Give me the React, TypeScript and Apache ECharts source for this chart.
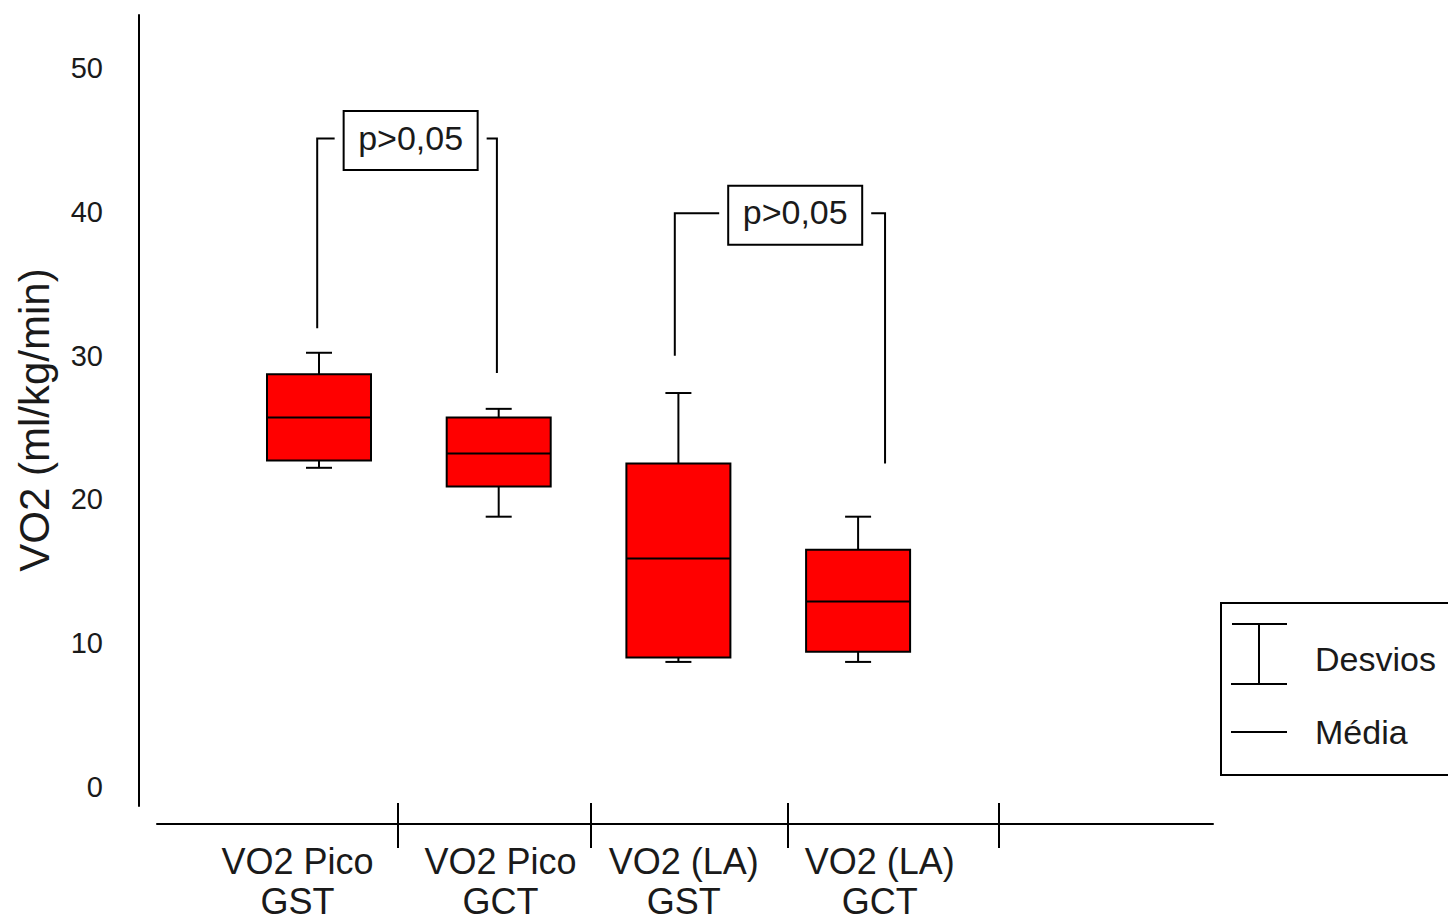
import React, { useEffect, useRef } from "react";
import * as echarts from "echarts";

// ---- data ----
const categories = ["VO2 Pico\nGST", "VO2 Pico\nGCT", "VO2 (LA)\nGST", "VO2 (LA)\nGCT"];
const boxPositions = [1, 2, 3, 4];
const whiskerLow = [22.2, 18.8, 8.7, 8.7];
const boxLow = [22.7, 20.9, 9.0, 9.4];
const means = [25.7, 23.2, 15.9, 12.9];
const boxHigh = [28.7, 25.7, 22.5, 16.5];
const whiskerHigh = [30.2, 26.3, 27.4, 18.8];
const yTickValues = [0, 10, 20, 30, 40, 50];
const labelPositions = [0.88, 2.01, 3.03, 4.12];
const separatorPositions = [1.44, 2.51, 3.61, 4.78];

const comparisonLabels = ["p>0,05", "p>0,05"];
const bracketLeftX = [0.99, 2.98];
const bracketRightX = [1.99, 4.15];
const bracketLevel = [45.1, 39.9];
const bracketLeftEnd = [31.9, 30.0];
const bracketRightEnd = [28.8, 22.5];
const bracketLabelX = [1.51, 3.65];

const legendItems = ["Desvios", "Média"];
const yAxisTitle = "VO2 (ml/kg/min)";

const FONT = "'Liberation Sans', Arial, sans-serif";
const INK = "#1a1a1a";

export default function App() {
  const ref = useRef<HTMLDivElement>(null);

  useEffect(() => {
    if (!ref.current) return;
    const chart = echarts.init(ref.current, null, { renderer: "svg" });

    const boxData = boxPositions.map((x, i) => [
      x,
      whiskerLow[i],
      boxLow[i],
      means[i],
      boxHigh[i],
      whiskerHigh[i],
    ]);
    const bracketData = comparisonLabels.map((_, i) => [
      bracketLeftX[i],
      bracketRightX[i],
      bracketLevel[i],
      bracketLeftEnd[i],
      bracketRightEnd[i],
      bracketLabelX[i],
    ]);

    const line = (x1: number, y1: number, x2: number, y2: number) => ({
      type: "line",
      shape: { x1, y1, x2, y2 },
      style: { stroke: "#000", lineWidth: 2 },
    });

    const option: any = {
      animation: false,
      backgroundColor: "#fff",
      grid: { left: 157, right: 235, top: 15, bottom: 118, outerBoundsMode: "none", containLabel: false },
      xAxis: [
        {
          type: "value",
          min: 0.0985,
          max: 5.975,
          position: "bottom",
          offset: 18,
          splitLine: { show: false },
          axisLine: { show: true, onZero: false, lineStyle: { color: "#000", width: 2 } },
          axisTick: {
            show: true,
            customValues: separatorPositions,
            length: 24,
            inside: false,
            lineStyle: { color: "#000", width: 2 },
          },
          axisLabel: {
            show: true,
            customValues: labelPositions,
            margin: 17,
            fontFamily: FONT,
            fontSize: 36,
            lineHeight: 40,
            color: INK,
            formatter: (v: number) => {
              const idx = labelPositions.findIndex((p) => Math.abs(p - v) < 1e-6);
              return idx >= 0 ? categories[idx] : "";
            },
          },
        },
        {
          type: "value",
          min: 0.0985,
          max: 5.975,
          position: "bottom",
          offset: 18,
          splitLine: { show: false },
          axisLine: { show: false, onZero: false },
          axisTick: {
            show: true,
            customValues: separatorPositions,
            length: 21,
            inside: true,
            lineStyle: { color: "#000", width: 2 },
          },
          axisLabel: { show: false },
        },
      ],
      yAxis: {
        type: "value",
        min: -1.32,
        max: 53.69,
        offset: 18,
        splitLine: { show: false },
        axisLine: { show: true, onZero: false, lineStyle: { color: "#000", width: 2 } },
        axisTick: { show: false },
        axisLabel: {
          customValues: yTickValues,
          margin: 36,
          fontFamily: FONT,
          fontSize: 29,
          color: INK,
        },
      },
      series: [
        {
          type: "custom",
          xAxisIndex: 0,
          yAxisIndex: 0,
          clip: false,
          data: boxData,
          renderItem: (params: any, api: any) => {
            const x = api.value(0);
            const pWL = api.coord([x, api.value(1)]);
            const pBL = api.coord([x, api.value(2)]);
            const pM = api.coord([x, api.value(3)]);
            const pBH = api.coord([x, api.value(4)]);
            const pWH = api.coord([x, api.value(5)]);
            const cx = pM[0];
            const half = 52;
            const cap = 13;
            return {
              type: "group",
              children: [
                line(cx, pWH[1], cx, pBH[1]),
                line(cx - cap, pWH[1], cx + cap, pWH[1]),
                line(cx, pBL[1], cx, pWL[1]),
                line(cx - cap, pWL[1], cx + cap, pWL[1]),
                {
                  type: "rect",
                  shape: { x: cx - half, y: pBH[1], width: half * 2, height: pBL[1] - pBH[1] },
                  style: { fill: "#ff0000", stroke: "#000", lineWidth: 2 },
                },
                line(cx - half, pM[1], cx + half, pM[1]),
              ],
            };
          },
        },
        {
          type: "custom",
          xAxisIndex: 0,
          yAxisIndex: 0,
          clip: false,
          data: bracketData,
          renderItem: (params: any, api: any) => {
            const i = params.dataIndex;
            const pL = api.coord([api.value(0), api.value(2)]);
            const pR = api.coord([api.value(1), api.value(2)]);
            const pLE = api.coord([api.value(0), api.value(3)]);
            const pRE = api.coord([api.value(1), api.value(4)]);
            const pLab = api.coord([api.value(5), api.value(2)]);
            const bw = 134;
            const bh = 59;
            const gap = 9;
            const ly = pL[1];
            const bx = pLab[0] - bw / 2;
            const by = ly + 2 - bh / 2;
            return {
              type: "group",
              children: [
                {
                  type: "polyline",
                  shape: { points: [[pLE[0], pLE[1]], [pL[0], ly], [bx - gap, ly]] },
                  style: { stroke: "#000", lineWidth: 2, fill: null },
                },
                {
                  type: "polyline",
                  shape: { points: [[bx + bw + gap, ly], [pR[0], ly], [pRE[0], pRE[1]]] },
                  style: { stroke: "#000", lineWidth: 2, fill: null },
                },
                {
                  type: "rect",
                  shape: { x: bx, y: by, width: bw, height: bh },
                  style: { fill: "#fff", stroke: "#000", lineWidth: 2 },
                },
                {
                  type: "text",
                  x: pLab[0],
                  y: by + bh / 2 - 3,
                  style: {
                    text: comparisonLabels[i],
                    fontFamily: FONT,
                    fontSize: 34,
                    fill: INK,
                    align: "center",
                    verticalAlign: "middle",
                  },
                },
              ],
            };
          },
        },
      ],
      graphic: [
        {
          type: "text",
          x: 34,
          y: 420,
          rotation: Math.PI / 2,
          style: {
            text: yAxisTitle,
            fontFamily: FONT,
            fontSize: 42,
            fill: INK,
            align: "center",
            verticalAlign: "middle",
          },
        },
        {
          type: "group",
          children: [
            {
              type: "rect",
              shape: { x: 1221, y: 603, width: 260, height: 172 },
              style: { fill: "#fff", stroke: "#000", lineWidth: 2 },
            },
            { type: "line", shape: { x1: 1259, y1: 624, x2: 1259, y2: 684 }, style: { stroke: "#000", lineWidth: 2 } },
            { type: "line", shape: { x1: 1232, y1: 624, x2: 1287, y2: 624 }, style: { stroke: "#000", lineWidth: 2 } },
            { type: "line", shape: { x1: 1231, y1: 684, x2: 1287, y2: 684 }, style: { stroke: "#000", lineWidth: 2 } },
            { type: "line", shape: { x1: 1231, y1: 732, x2: 1287, y2: 732 }, style: { stroke: "#000", lineWidth: 2 } },
            {
              type: "text",
              x: 1315,
              y: 659,
              style: {
                text: legendItems[0],
                fontFamily: FONT,
                fontSize: 34,
                fill: INK,
                align: "left",
                verticalAlign: "middle",
              },
            },
            {
              type: "text",
              x: 1315,
              y: 732,
              style: {
                text: legendItems[1],
                fontFamily: FONT,
                fontSize: 34,
                fill: INK,
                align: "left",
                verticalAlign: "middle",
              },
            },
          ],
        },
      ],
    };

    chart.setOption(option);
    return () => chart.dispose();
  }, []);

  return (
    <div
      ref={ref}
      style={{ position: "fixed", left: 0, top: 0, width: 1448, height: 924, background: "#fff" }}
    />
  );
}
